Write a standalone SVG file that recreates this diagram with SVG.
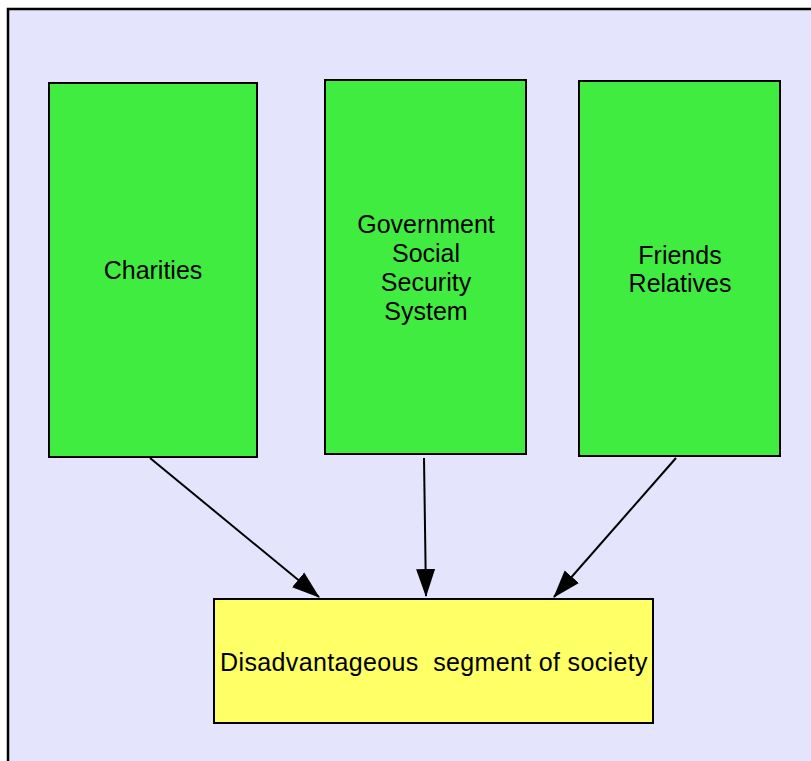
<svg xmlns="http://www.w3.org/2000/svg" width="811" height="761" viewBox="0 0 811 761">
  <style>
    .frame { fill: #e4e4fc; stroke: #000; stroke-width: 2.5; }
    .src { fill: #40ec40; stroke: #000; stroke-width: 2; }
    .dst { fill: #ffff66; stroke: #000; stroke-width: 2; }
    .lbl { font-family: "Liberation Sans", Arial, sans-serif; font-size: 25px; fill: #000; text-anchor: middle; }
    .wide { letter-spacing: 0.35px; }
    .edge { stroke: #000; stroke-width: 2; fill: none; marker-end: url(#arrow); }
  </style>
  <defs>
    <marker id="arrow" viewBox="0 0 28 20" refX="27" refY="10" markerWidth="28" markerHeight="20" markerUnits="userSpaceOnUse" orient="auto">
      <path d="M0,0.5 L28,10 L0,19.5 Z" fill="#000"/>
    </marker>
  </defs>
  <rect width="811" height="761" fill="#ffffff"/>
  <rect class="frame" x="8" y="9" width="820" height="770"/>

  <g id="charities">
    <rect class="src" x="49" y="83" width="208" height="374"/>
    <text class="lbl" x="153" y="279">Charities</text>
  </g>
  <g id="government">
    <rect class="src" x="325" y="80" width="201" height="374"/>
    <text class="lbl" x="426" y="233">Government</text>
    <text class="lbl" x="426" y="262">Social</text>
    <text class="lbl" x="426" y="291">Security</text>
    <text class="lbl" x="426" y="320">System</text>
  </g>
  <g id="friends">
    <rect class="src" x="579" y="81" width="201" height="375"/>
    <text class="lbl" x="680" y="264">Friends</text>
    <text class="lbl" x="680" y="292">Relatives</text>
  </g>
  <g id="disadvantaged">
    <rect class="dst" x="214" y="599" width="439" height="124"/>
    <text class="lbl wide" x="434" y="671" xml:space="preserve">Disadvantageous  segment of society</text>
  </g>

  <g id="connectors">
    <line class="edge" x1="150" y1="458" x2="319" y2="597"/>
    <line class="edge" x1="424" y1="458" x2="426" y2="596"/>
    <line class="edge" x1="676" y1="458" x2="554" y2="597"/>
  </g>
</svg>
